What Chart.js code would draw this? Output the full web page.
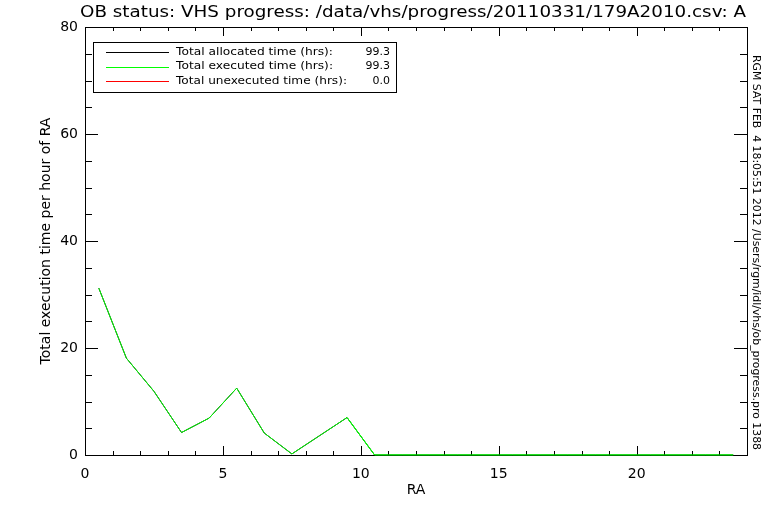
<!DOCTYPE html>
<html>
<head>
<meta charset="utf-8">
<script src="https://cdn.jsdelivr.net/npm/chart.js@4/dist/chart.umd.min.js"></script>
<style>
  html, body { margin: 0; padding: 0; background: #fff; }
  #wrap { width: 768px; height: 512px; }
</style>
</head>
<body>
<div id="wrap"><canvas id="obChart" width="768" height="512"></canvas></div>
<script>
// RA bin centres (hours)
const raBins = [0.5, 1.5, 2.5, 3.5, 4.5, 5.5, 6.5, 7.5, 8.5, 9.5, 10.5, 11.5,
    12.5, 13.5, 14.5, 15.5, 16.5, 17.5, 18.5, 19.5, 20.5, 21.5, 22.5, 23.5];
// hours per RA bin
const executed = [31.2, 18.1, 11.9, 4.2, 6.9, 12.5, 4.1, 0.2, 3.6, 7.0, 0, 0,
    0, 0, 0, 0, 0, 0, 0, 0, 0, 0, 0, 0];
const allocated = executed.slice();

const legendRows = [
    { text: "Total allocated time (hrs):", value: "99.3", color: "#000000", w: 157 },
    { text: "Total executed time (hrs):", value: "99.3", color: "#00ff00", w: 157 },
    { text: "Total unexecuted time (hrs):", value: "0.0", color: "#ff0000", w: 171 }
];

const titleText = "OB status: VHS progress: /data/vhs/progress/20110331/179A2010.csv: A";
const stampText = "RGM SAT FEB  4 18:05:51 2012 /Users/rgm/idl/vhs/ob_progress.pro 1388";

const FONT = "'DejaVu Sans', sans-serif";

const toPoints = (ys) => raBins.map((x, i) => ({ x: x, y: ys[i] }));

// draw text stretched horizontally to a given width (hershey fonts are wide)
function wideText(ctx, text, x, y, width) {
    const w = ctx.measureText(text).width;
    ctx.save();
    ctx.translate(x, y);
    ctx.scale(width / w, 1);
    ctx.fillText(text, 0, 0);
    ctx.restore();
}

// frame, inward ticks, legend box, title and side stamp
const idlFrame = {
    id: "idlFrame",
    afterDraw(chart) {
        const ctx = chart.ctx;
        const a = chart.chartArea;
        const xs = chart.scales.x;
        const ys = chart.scales.y;
        ctx.save();
        ctx.strokeStyle = "#000";
        ctx.lineWidth = 1;
        ctx.strokeRect(a.left + 0.5, a.top + 0.5, a.right - a.left, a.bottom - a.top);

        ctx.beginPath();
        for (let v = 0; v <= 24; v++) {
            const px = Math.round(xs.getPixelForValue(v)) + 0.5;
            const len = v % 5 === 0 ? 9 : 4;
            ctx.moveTo(px, a.bottom); ctx.lineTo(px, a.bottom - len);
            ctx.moveTo(px, a.top); ctx.lineTo(px, a.top + len);
        }
        for (let v = 0; v <= 80; v += 5) {
            const py = Math.round(ys.getPixelForValue(v)) + 0.5;
            const len = v % 20 === 0 ? 13 : 7;
            ctx.moveTo(a.left, py); ctx.lineTo(a.left + len, py);
            ctx.moveTo(a.right, py); ctx.lineTo(a.right - len, py);
        }
        ctx.stroke();

        // green curve sits on top of the axis where it runs along zero
        const meta = chart.getDatasetMeta(1);
        ctx.strokeStyle = "#00ff00";
        ctx.beginPath();
        meta.data.forEach((p, i) => {
            if (i > 0 && (executed[i] === 0 || executed[i - 1] === 0)) {
                const q = meta.data[i - 1];
                ctx.moveTo(q.x, q.y); ctx.lineTo(p.x, p.y);
            }
        });
        ctx.stroke();

        // legend
        ctx.strokeStyle = "#000";
        ctx.strokeRect(93.5, 42.5, 303, 50);
        ctx.font = "11px " + FONT;
        ctx.textBaseline = "middle";
        legendRows.forEach((r, i) => {
            const y = 52 + i * 14.5;
            ctx.strokeStyle = r.color;
            ctx.beginPath();
            ctx.moveTo(106, Math.round(y) + 0.5);
            ctx.lineTo(169, Math.round(y) + 0.5);
            ctx.stroke();
            ctx.fillStyle = "#000";
            ctx.textAlign = "left";
            wideText(ctx, r.text, 176, y, r.w);
            ctx.textAlign = "right";
            ctx.fillText(r.value, 390, y);
        });

        // title
        ctx.fillStyle = "#000";
        ctx.font = "15px " + FONT;
        ctx.textAlign = "left";
        ctx.textBaseline = "middle";
        wideText(ctx, titleText, 80, 13.5, 666);

        // side stamp
        ctx.translate(756, 55);
        ctx.rotate(Math.PI / 2);
        ctx.font = "10px " + FONT;
        ctx.textAlign = "left";
        wideText(ctx, stampText, 0, 0, 395);
        ctx.restore();
    }
};

new Chart(document.getElementById("obChart"), {
    type: "line",
    data: {
        datasets: [
            { label: "allocated", data: toPoints(allocated), borderColor: "#000000", borderWidth: 1, pointRadius: 0, order: 2 },
            { label: "executed", data: toPoints(executed), borderColor: "#00ff00", borderWidth: 1, pointRadius: 0, order: 1 }
        ]
    },
    options: {
        responsive: false,
        animation: false,
        layout: { padding: { top: 27, right: 21, left: 0, bottom: 0 } },
        plugins: {
            legend: { display: false },
            title: { display: false },
            tooltip: { enabled: false }
        },
        scales: {
            x: {
                type: "linear",
                min: 0, max: 24,
                grid: { display: false, drawTicks: false },
                border: { display: false },
                ticks: { stepSize: 5, color: "#000", padding: 11, maxRotation: 0, font: { family: FONT, size: 14 } },
                title: { display: true, text: "RA", color: "#000", padding: { top: 0, bottom: 13.5 }, font: { family: FONT, size: 14 } },
                afterBuildTicks(scale) { scale.ticks = scale.ticks.filter(t => t.value % 5 === 0); },
                afterFit(scale) { scale.height = 57; }
            },
            y: {
                min: 0, max: 80,
                grid: { display: false, drawTicks: false },
                border: { display: false },
                ticks: { stepSize: 20, color: "#000", padding: 7, font: { family: FONT, size: 14 } },
                title: { display: true, text: "Total execution time per hour of RA", color: "#000", padding: { top: 38, bottom: 0 }, font: { family: FONT, size: 14 } },
                afterFit(scale) { scale.width = 85; }
            }
        }
    },
    plugins: [idlFrame]
});
</script>
</body>
</html>
